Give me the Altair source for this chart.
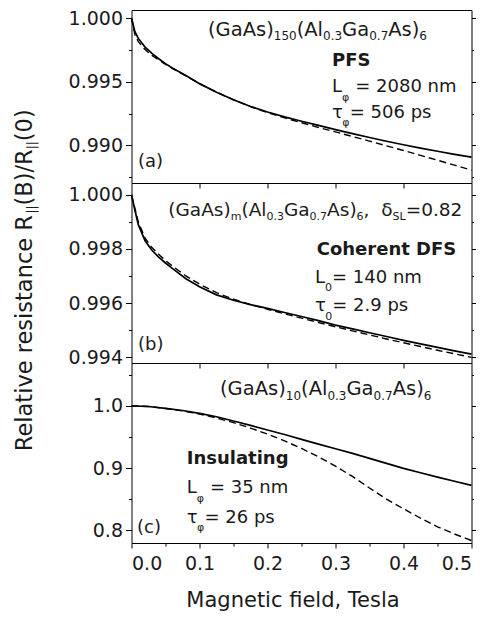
import altair as alt
import pandas as pd

# ---------------- data ----------------
field_ab = [0.0, 0.005, 0.01, 0.02, 0.03, 0.04, 0.05, 0.06, 0.08, 0.10, 0.125, 0.15, 0.175,
            0.20, 0.225, 0.25, 0.275, 0.30, 0.325, 0.35, 0.375, 0.40, 0.425, 0.45, 0.475, 0.50]

a_measured = [1.00000, 0.99893, 0.99840, 0.99772, 0.99722, 0.99680, 0.99642, 0.99608, 0.99548,
              0.99485, 0.99418, 0.99358, 0.99306, 0.99262, 0.99224, 0.99190, 0.99157, 0.99124,
              0.99092, 0.99062, 0.99033, 0.99005, 0.98979, 0.98954, 0.98930, 0.98908]
a_fit = [1.00000, 0.99870, 0.99815, 0.99752, 0.99707, 0.99670, 0.99636, 0.99604, 0.99545,
         0.99485, 0.99418, 0.99358, 0.99305, 0.99258, 0.99216, 0.99178, 0.99141, 0.99106,
         0.99070, 0.99034, 0.98997, 0.98960, 0.98922, 0.98884, 0.98845, 0.98806]

b_measured = [1.00000, 0.99944, 0.99890, 0.99830, 0.99795, 0.99770, 0.99748, 0.99728, 0.99690,
              0.99660, 0.99630, 0.99610, 0.99594, 0.99580, 0.99565, 0.99550, 0.99535, 0.99518,
              0.99504, 0.99490, 0.99476, 0.99462, 0.99449, 0.99436, 0.99423, 0.99411]
b_fit = [1.00000, 0.99950, 0.99900, 0.99840, 0.99805, 0.99780, 0.99757, 0.99737, 0.99700,
         0.99670, 0.99638, 0.99614, 0.99594, 0.99577, 0.99560, 0.99544, 0.99528, 0.99512,
         0.99497, 0.99482, 0.99467, 0.99453, 0.99439, 0.99425, 0.99412, 0.99399]

field_c = [0.0, 0.025, 0.05, 0.075, 0.10, 0.125, 0.15, 0.175, 0.20, 0.225, 0.25,
           0.275, 0.30, 0.325, 0.35, 0.375, 0.40, 0.425, 0.45, 0.475, 0.50]
c_measured = [1.0000, 0.9990, 0.9960, 0.9925, 0.9880, 0.9825, 0.9757, 0.9686, 0.9612, 0.9540,
              0.9462, 0.9385, 0.9310, 0.9235, 0.9155, 0.9075, 0.8995, 0.8925, 0.8855, 0.8788,
              0.8721]
c_fit = [1.0000, 0.9990, 0.9958, 0.9918, 0.9868, 0.9806, 0.9730, 0.9643, 0.9545, 0.9438,
         0.9315, 0.9180, 0.9030, 0.8865, 0.8680, 0.8500, 0.8345, 0.8195, 0.8055, 0.7940,
         0.7834]

# y-axis ticks (major + minor) per panel
a_ticks = [0.9875, 0.990, 0.9925, 0.995, 0.9975, 1.000]
b_ticks = [0.994, 0.995, 0.996, 0.997, 0.998, 0.999, 1.000]
c_ticks = [0.80, 0.85, 0.90, 0.95, 1.00, 1.05]
x_ticks = [0.0, 0.05, 0.1, 0.15, 0.2, 0.25, 0.3, 0.35, 0.4, 0.45, 0.5]
x_inner_ticks = [0.1, 0.2, 0.3, 0.4]

# annotation texts: (segment, kind) with kind m = normal, s = subscript
formula_a = [("(GaAs)", "m"), ("150", "s"), ("(Al", "m"), ("0.3", "s"), ("Ga", "m"),
             ("0.7", "s"), ("As)", "m"), ("6", "s")]
formula_b = [("(GaAs)", "m"), ("m", "s"), ("(Al", "m"), ("0.3", "s"), ("Ga", "m"),
             ("0.7", "s"), ("As)", "m"), ("6", "s"), (",", "m"), ("  δ", "m"),
             ("SL", "s"), ("=0.82", "m")]
formula_c = [("(GaAs)", "m"), ("10", "s"), ("(Al", "m"), ("0.3", "s"), ("Ga", "m"),
             ("0.7", "s"), ("As)", "m"), ("6", "s")]
length_a = [("L", "m"), ("φ", "s"), (" = 2080 nm", "m")]
time_a = [("τ", "m"), ("φ", "s"), ("= 506 ps", "m")]
length_b = [("L", "m"), ("0", "s"), ("= 140 nm", "m")]
time_b = [("τ", "m"), ("0", "s"), ("= 2.9 ps", "m")]
length_c = [("L", "m"), ("φ", "s"), (" = 35 nm", "m")]
time_c = [("τ", "m"), ("φ", "s"), ("= 26 ps", "m")]
regime_a, regime_b, regime_c = "PFS", "Coherent DFS", "Insulating"
panel_tags = ["(a)", "(b)", "(c)"]
y_title = [("Relative resistance R", "m"), ("||", "s"), ("(B)/R", "m"), ("||", "s"), ("(0)", "m")]
x_title = "Magnetic field, Tesla"

# ---------------- styling ----------------
FONT = "DejaVu Sans"
INK = "#1a1a1a"
MAIN = 18
SUB = 11
W_PLOT = 340
X_DOMAIN = [0, 0.5]

# DejaVu Sans advance widths (per 1000 em) used to chain text runs
ADV = {" ": 318, "(": 390, ")": 390, ",": 318, ".": 318, "/": 337, "=": 838, "|": 337,
       "A": 684, "B": 686, "G": 775, "L": 557, "R": 695, "S": 635,
       "a": 613, "c": 550, "e": 615, "i": 278, "l": 278, "m": 974, "n": 634, "p": 635,
       "r": 411, "s": 521, "t": 392, "v": 592, "δ": 612, "τ": 572, "φ": 680}
for d in "0123456789":
    ADV[d] = 636


def tw(s, size):
    return sum(ADV.get(ch, 600) for ch in s) * size / 1000.0


XU = (X_DOMAIN[1] - X_DOMAIN[0]) / W_PLOT  # data units per pixel along x


def runs(segments, x, y, drop, yu, main=MAIN, sub=SUB):
    """Chain text runs left to right; offsets turned into data units."""
    rows, cur = [], 0.0
    for txt, kind in segments:
        size = main if kind == "m" else sub
        body = txt.lstrip(" ")
        lead = tw(txt[: len(txt) - len(body)], size)
        dy = 0 if kind == "m" else drop
        rows.append({"x": x + (cur + lead) * XU, "y": y - dy * yu, "size": size, "label": body})
        cur += tw(txt, size)
    return rows


def vruns(segments, x, y, drop, yu, main=22.5, sub=12):
    """Rotated (reading upwards) runs."""
    rows, cur = [], 0.0
    for txt, kind in segments:
        size = main if kind == "m" else sub
        dx = 0 if kind == "m" else drop
        rows.append({"x": x + dx * XU, "y": y + cur * yu, "size": size, "label": txt})
        cur += tw(txt, size)
    return rows


xscale = alt.Scale(domain=X_DOMAIN, nice=False, zero=False)
x_axis_inner = alt.Axis(values=x_inner_ticks, labels=False, tickSize=5, title=None,
                        grid=False, domain=False)
x_minor = "abs(datum.value*10 - round(datum.value*10)) >= 0.001"
x_axis_bottom = alt.Axis(values=x_ticks,
                         labelExpr="abs(datum.value*10 - round(datum.value*10)) < 0.001 ? format(datum.value, '.1f') : ''",
                         tickSize={"condition": {"test": x_minor, "value": 3}, "value": 5},
                         labelPadding=6, labelOverlap=False, grid=False, domain=False,
                         title=x_title, titleFont=FONT, titleFontSize=21, titleFontWeight="normal",
                         titleColor=INK, titleX=161, titleY=63, titleBaseline="alphabetic")


def text_layer(rows, yscale, x_axis, **mark):
    return alt.Chart(pd.DataFrame(rows)).mark_text(
        align="left", baseline="alphabetic", font=FONT, color=INK, **mark
    ).encode(
        x=alt.X("x:Q", scale=xscale, axis=x_axis, title=None),
        y=alt.Y("y:Q", scale=yscale, axis=None),
        size=alt.Size("size:Q", scale=None, legend=None),
        text="label:N",
    )


def panel(T, meas, fit, domain, ticks, mult, fmt, height, texts, bold_rows, bottom, extra=()):
    df = pd.DataFrame({"T": T, "meas": meas, "fit": fit})
    yscale = alt.Scale(domain=domain, nice=False, zero=False)
    yu = (domain[1] - domain[0]) / height
    major = f"abs(datum.value*{mult} - round(datum.value*{mult})) < 0.001"
    minor = f"abs(datum.value*{mult} - round(datum.value*{mult})) >= 0.001"
    left_axis = alt.Axis(values=ticks, labelExpr=f"{major} ? format(datum.value, '{fmt}') : ''",
                         tickSize={"condition": {"test": minor, "value": 3}, "value": 6},
                         labelPadding=3, title=None, grid=False, labelOverlap=False, domain=False)
    right_axis = alt.Axis(orient="right", values=ticks, labels=False,
                          tickSize={"condition": {"test": minor, "value": 2}, "value": 4},
                          title=None, grid=False, domain=False)
    x_axis = x_axis_bottom if bottom else x_axis_inner
    solid = alt.Chart(df).mark_line(color="black", strokeWidth=1.7).encode(
        x=alt.X("T:Q", scale=xscale, axis=x_axis, title=None),
        y=alt.Y("meas:Q", scale=yscale, axis=left_axis),
    )
    dashed = alt.Chart(df).mark_line(color="black", strokeWidth=1.4, strokeDash=[7, 4]).encode(
        x=alt.X("T:Q", scale=xscale, axis=x_axis, title=None),
        y=alt.Y("fit:Q", scale=yscale, axis=right_axis),
    )
    rows = []
    for segs, x, y, drop, main, sub in texts:
        rows += runs(segs, x, y, drop, yu, main, sub)
    bold = alt.Chart(pd.DataFrame(bold_rows)).mark_text(
        align="left", baseline="alphabetic", font=FONT, color=INK, fontSize=MAIN, fontWeight="bold"
    ).encode(
        x=alt.X("x:Q", scale=xscale, axis=x_axis, title=None),
        y=alt.Y("y:Q", scale=yscale, axis=None),
        text="label:N",
    )
    layers = [solid, dashed, text_layer(rows, yscale, x_axis), bold]
    for segs, x, y, drop, kw in extra:
        layers.append(text_layer(vruns(segs, x, y, drop, yu), yscale, x_axis, **kw))
    return alt.layer(*layers).resolve_axis(y="independent").properties(width=W_PLOT, height=height)


texts_a = [(formula_a, 0.1125, 0.998605, 4.5, 19.5, 12),
           (length_a, 0.29485, 0.994186, 8.5, MAIN, SUB),
           (time_a, 0.29485, 0.992170, 8.5, MAIN, SUB),
           ([(panel_tags[0], "m")], 0.00956, 0.988295, 0, MAIN, SUB)]
bold_a = [{"x": 0.29485, "y": 0.996202, "label": regime_a}]

texts_b = [(formula_b, 0.05412, 0.999222, 4.5, 18.5, 11),
           (length_b, 0.26985, 0.996741, 8.5, MAIN, SUB),
           (time_b, 0.26985, 0.995704, 8.5, MAIN, SUB),
           ([(panel_tags[1], "m")], 0.00956, 0.994259, 0, MAIN, SUB)]
bold_b = [{"x": 0.27235, "y": 0.997778, "label": regime_b}]
title_b = [(y_title, -0.14676, 0.990519, 4, {"angle": 270})]

texts_c = [(formula_c, 0.13015, 1.01726, 4.5, 19.5, 12),
           (length_c, 0.08118, 0.85919, 8.5, MAIN, SUB),
           (time_c, 0.08118, 0.81242, 8.5, MAIN, SUB),
           ([(panel_tags[2], "m")], 0.00809, 0.79629, 0, MAIN, SUB)]
bold_c = [{"x": 0.08118, "y": 0.90597, "label": regime_c}]

pa = panel(field_ab, a_measured, a_fit, [0.98705, 1.00063], a_ticks, 200, ".3f", 173,
           texts_a, bold_a, False)
pb = panel(field_ab, b_measured, b_fit, [0.99378, 1.00044], b_ticks, 500, ".3f", 180,
           texts_b, bold_b, False, extra=title_b)
pc = panel(field_c, c_measured, c_fit, [0.7795, 1.0689], c_ticks, 10, ".1f", 180,
           texts_c, bold_c, True)

chart = alt.vconcat(pa, pb, pc, spacing=0).properties(
    bounds="flush",
    padding={"left": 4.5, "top": 0, "right": 0, "bottom": 0},
).configure_view(
    stroke="black", strokeWidth=1
).configure_axis(
    labelFont=FONT, labelFontSize=19, labelColor=INK,
    domainColor="black", tickColor="black", tickWidth=1,
)

chart.save("out.html", embed_options={"renderer": "svg", "actions": False})
